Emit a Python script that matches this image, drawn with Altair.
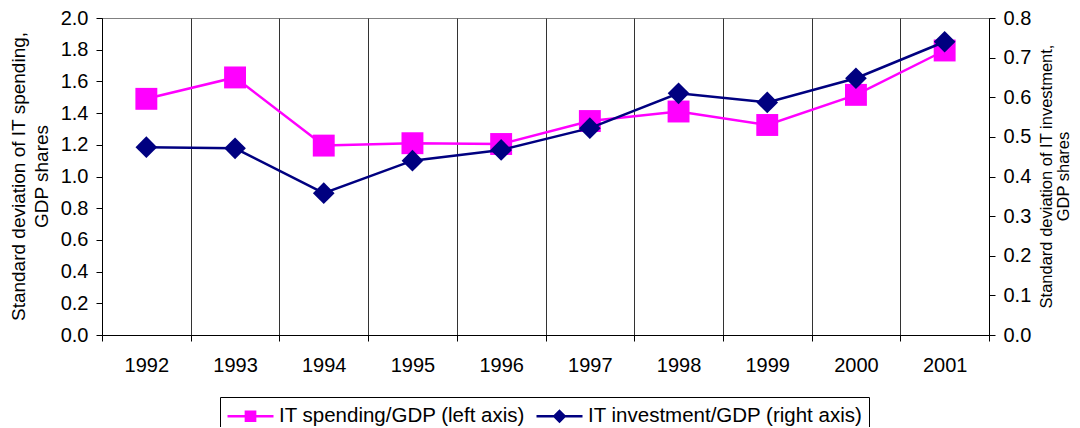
import altair as alt
import pandas as pd

# ---- data ----
years = ["1992", "1993", "1994", "1995", "1996", "1997", "1998", "1999", "2000", "2001"]
it_spending = [1.49, 1.625, 1.195, 1.21, 1.205, 1.35, 1.41, 1.325, 1.515, 1.795]
it_investment = [0.474, 0.471, 0.358, 0.44, 0.467, 0.522, 0.61, 0.587, 0.648, 0.74]
series_names = ["IT spending/GDP (left axis)", "IT investment/GDP (right axis)"]
left_ticks = [0.0, 0.2, 0.4, 0.6, 0.8, 1.0, 1.2, 1.4, 1.6, 1.8, 2.0]
right_ticks = [0.0, 0.1, 0.2, 0.3, 0.4, 0.5, 0.6, 0.7, 0.8]
left_title = ["Standard deviation of IT spending,", "GDP shares"]
right_title = ["Standard deviation of IT investment,", "GDP shares"]

df = pd.DataFrame({"year": years, "spending": it_spending, "investment": it_investment})
legend_df = pd.DataFrame({"series": series_names})

FONT = "Liberation Sans"
PINK = "#FF00FF"
NAVY = "#000080"

x_enc = alt.X(
    "year:O",
    sort=years,
    bandPosition=0.5,
    scale=alt.Scale(type="band", paddingInner=0, paddingOuter=0),
    axis=alt.Axis(
        title=None, tickBand="extent", grid=True, gridColor="#333333", gridWidth=1,
        labelAngle=0, labelFont=FONT, labelFontSize=20, labelColor="black",
        labelPadding=14, tickSize=6, tickColor="black", domainColor="black",
        domainWidth=1,
    ),
)

left_axis = alt.Axis(
    values=left_ticks, format=".1f", title=left_title, titleFont=FONT,
    titleFontSize=19, titleLineHeight=23, titleFontWeight="normal",
    titleColor="black", titleAngle=270, titleAlign="center",
    titleBaseline="middle", titleX=-84, titleY=158,
    grid=False, tickSize=6,
    tickColor="black", domainColor="black", labelPadding=8, labelFont=FONT,
    labelFontSize=20, labelColor="black",
)
right_axis = alt.Axis(
    orient="right", values=right_ticks, format=".1f", title=right_title,
    titleFont=FONT, titleFontSize=16.5, titleLineHeight=17,
    titleFontWeight="normal", titleColor="black", titleAngle=270,
    titleAlign="center", titleBaseline="middle", titleX=57, titleY=158,
    grid=False, tickSize=6,
    tickColor="black", domainColor="black", labelPadding=8, labelFont=FONT,
    labelFontSize=20, labelColor="black",
)

base = alt.Chart(df)

y_left = alt.Y("spending:Q", scale=alt.Scale(domain=[0, 2], nice=False), axis=left_axis)
left_layer = alt.layer(
    base.mark_line(color=PINK, strokeWidth=2.5).encode(x=x_enc, y=y_left),
    base.mark_point(shape="square", filled=True, size=480, color=PINK, opacity=1).encode(x=x_enc, y=y_left),
)

y_right = alt.Y("investment:Q", scale=alt.Scale(domain=[0, 0.8], nice=False), axis=right_axis)
right_layer = alt.layer(
    base.mark_line(color=NAVY, strokeWidth=2.5).encode(x=x_enc, y=y_right),
    base.mark_point(shape="diamond", filled=True, size=470, color=NAVY, opacity=1).encode(x=x_enc, y=y_right),
)

# legend-only layer (no visible marks; legend entries from explicit domain)
sq_path = "M-1,0H3M0.6,-0.4H1.4V0.4H0.6Z"
dm_path = "M-1,0H3M1,-0.45L1.45,0L1,0.45L0.55,0Z"
leg = alt.Legend(
    title=None, orient="none", legendX=118, legendY=379, direction="horizontal",
    strokeColor="black", fillColor="white", padding=6, labelFont=FONT,
    labelFontSize=20.5, labelColor="black", labelLimit=400, labelOffset=27,
    columnPadding=5, symbolSize=529, symbolStrokeWidth=2.5,
)
legend_layer = (
    alt.Chart(legend_df)
    .transform_filter("datum.series == 'none'")
    .mark_point(filled=True, opacity=1)
    .encode(
        shape=alt.Shape("series:N", scale=alt.Scale(domain=series_names, range=[sq_path, dm_path]), legend=leg),
        fill=alt.Fill("series:N", scale=alt.Scale(domain=series_names, range=[PINK, NAVY]), legend=leg),
        stroke=alt.Stroke("series:N", scale=alt.Scale(domain=series_names, range=[PINK, NAVY]), legend=leg),
    )
)

chart = (
    alt.layer(left_layer, right_layer, legend_layer)
    .resolve_scale(y="independent")
    .properties(
        width=887, height=317,
        autosize=alt.AutoSizeParams(type="none"),
        padding={"left": 94, "top": 10, "right": 83, "bottom": 92},
        background="white",
    )
    .configure_view(stroke="#808080", strokeWidth=1)
)

chart.save("out.html", embed_options={"renderer": "svg", "actions": False})
